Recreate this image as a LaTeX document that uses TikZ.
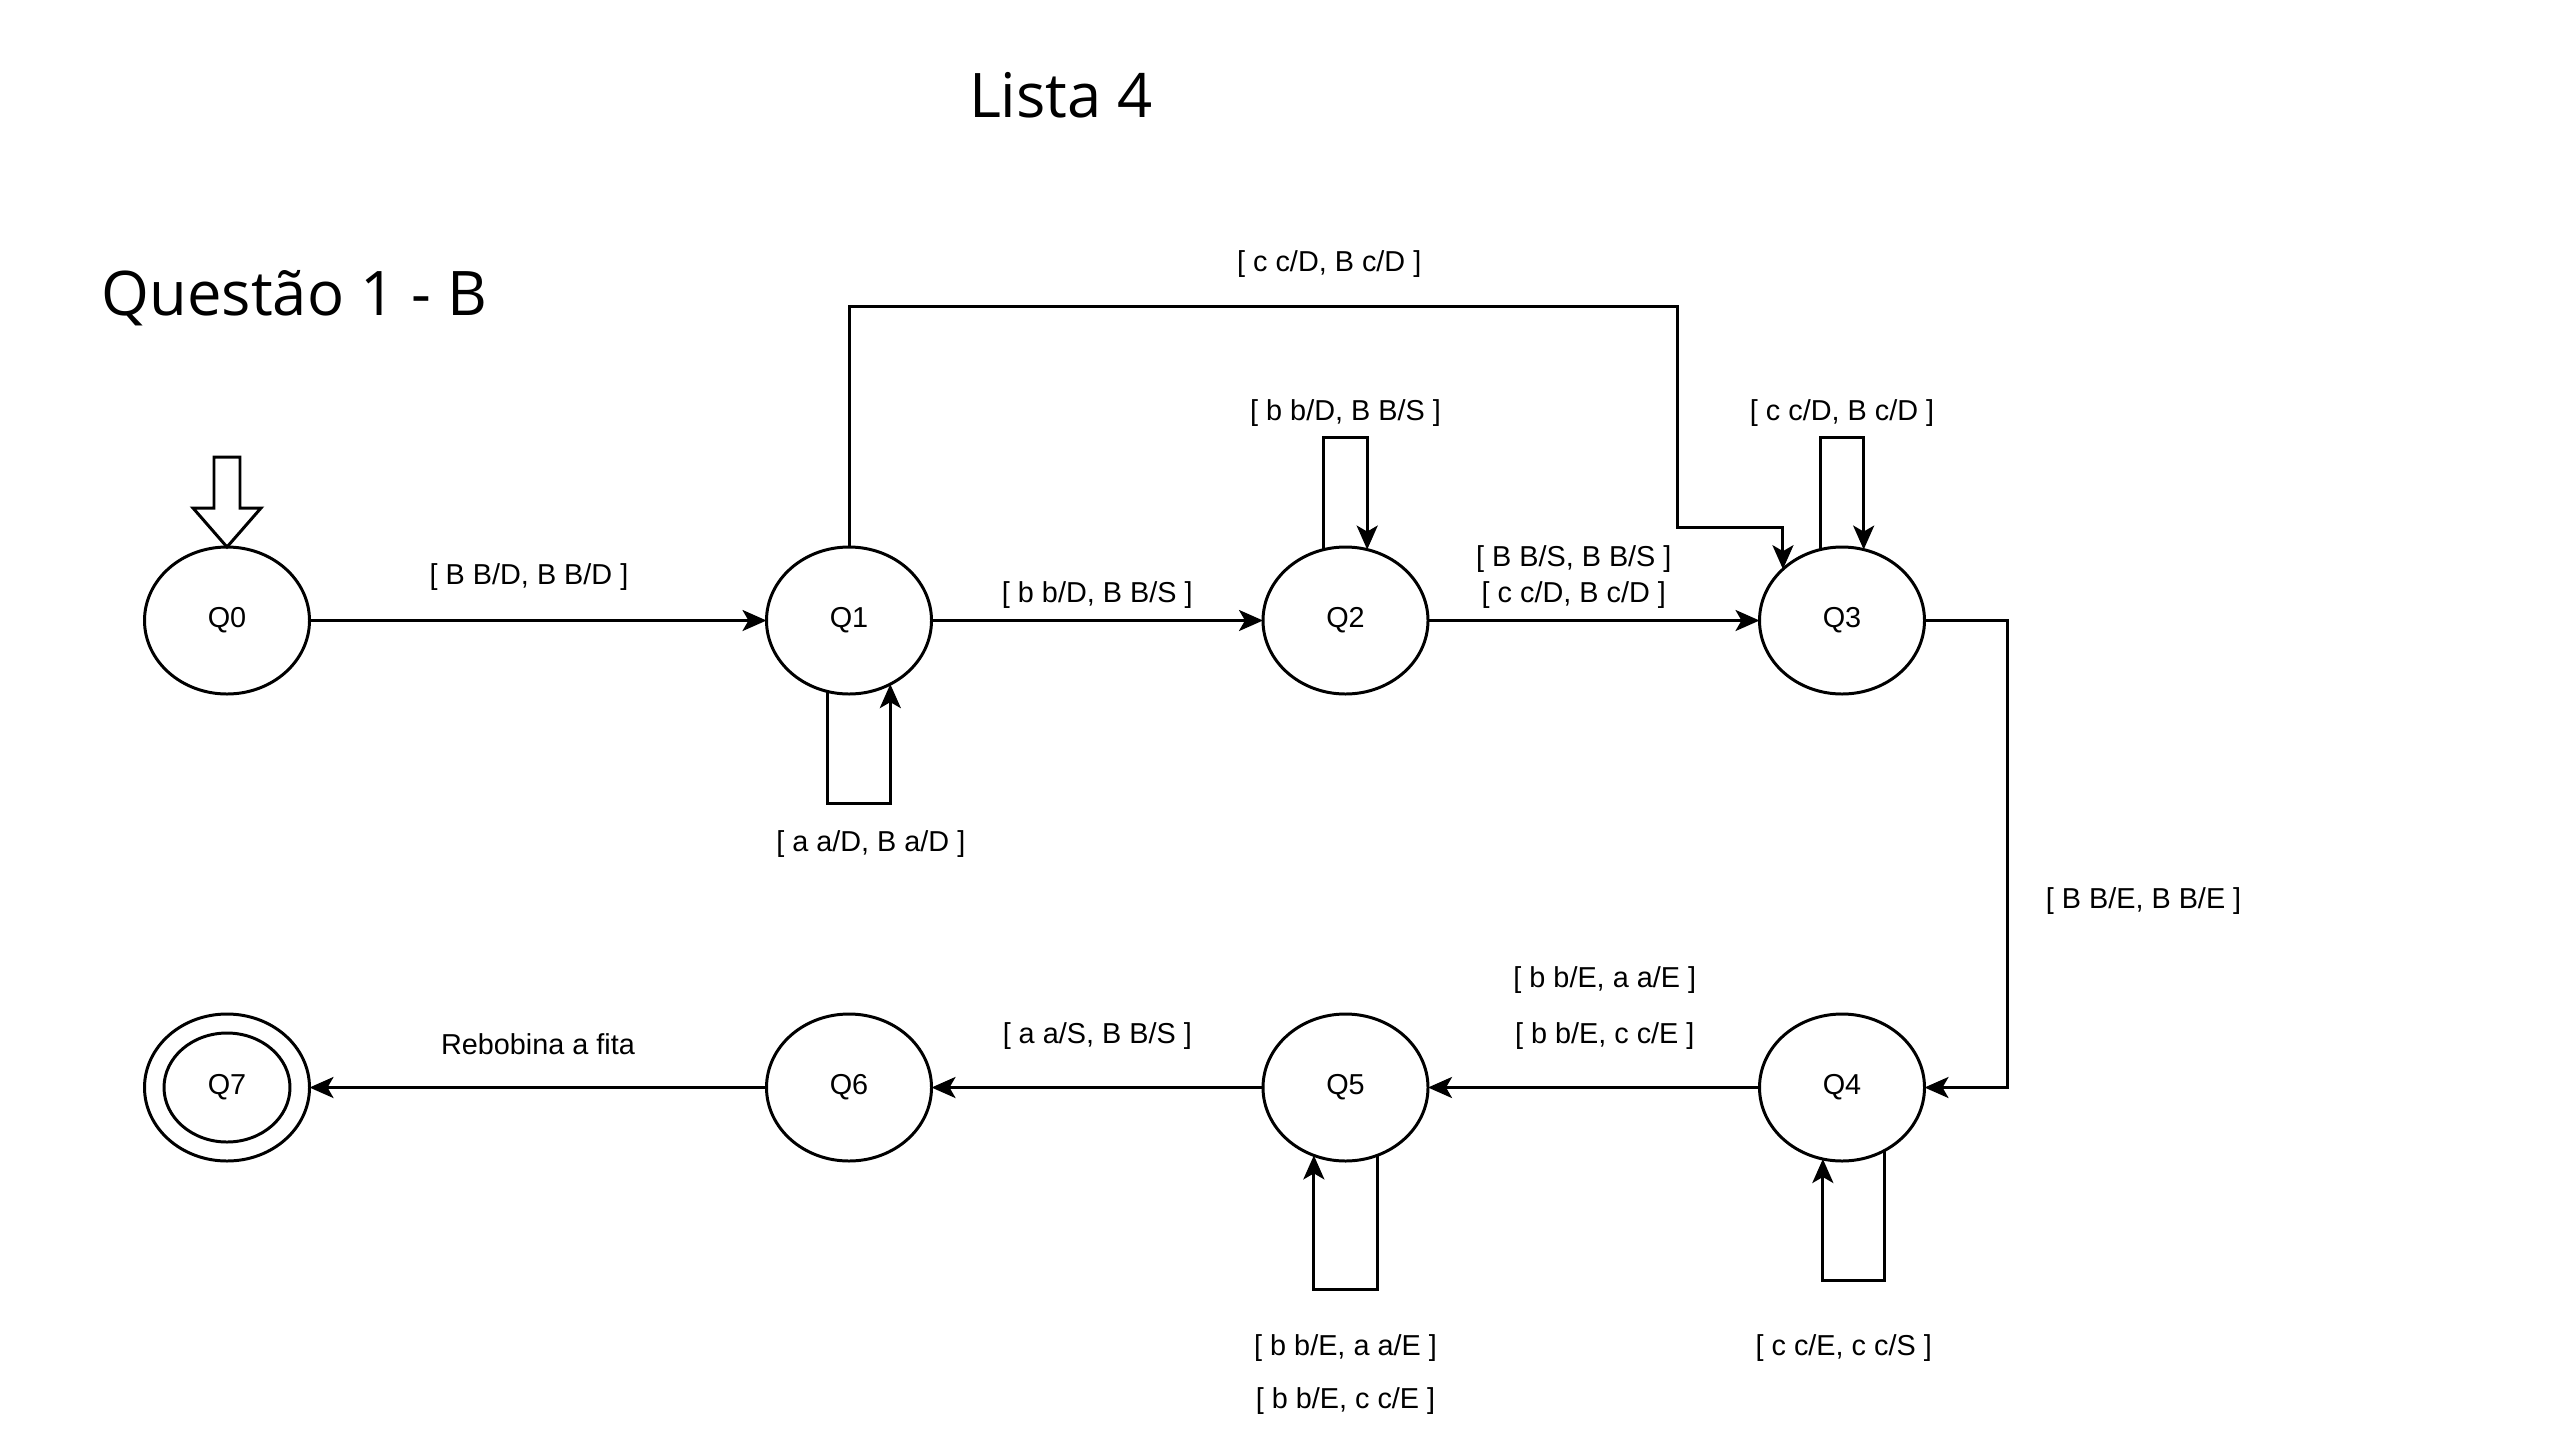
\documentclass[tikz,border=0pt]{standalone}
\usepackage{fontspec}
\setmainfont{Liberation Sans}
\newfontfamily\titlefont{Open Sans}
\usetikzlibrary{arrows.meta, positioning, calc, shapes.geometric}

\begin{document}
\begin{tikzpicture}[
        % Styles globaux
        base/.style={align=center, font=\fontsize{8.2}{10.2}\selectfont},
        % Style des etats
        state_node/.style={base, ellipse, draw, line width=0.85pt, minimum width=1.65cm, minimum height=1.47cm, inner sep=0pt, outer sep=0pt},
        % Style des etiquettes
        text_lbl/.style={base, inner sep=0pt},
        % Style des titres
        text_title/.style={font=\titlefont\fontsize{17.5}{21}\selectfont, inner sep=0pt},
        % Style des fleches
        arrow/.style={-{Stealth[length=2.4mm, width=2.1mm, inset=0.6mm]}, line width=0.85pt},
        % Espacement global
        node distance=3.2cm and 3.315cm
    ]
    \useasboundingbox (0,0) rectangle (25.6,-14.4);

    % --- TITRES ---
    \node[text_title] (title) at (10.61,-0.95) {Lista 4};
    \node[text_title, anchor=west] (subtitle) at (1.01,-2.98) {Questão 1 - B};

    % --- LIGNE 1 (HAUT) ---
    \node[state_node] (Q0) at (2.27,-6.205) {Q0};
    \node[state_node, right=4.57cm of Q0] (Q1) {Q1};
    \node[state_node, right=of Q1] (Q2) {Q2};
    \node[state_node, right=of Q2] (Q3) {Q3};

    % --- LIGNE 2 (BAS) ---
    \node[state_node, below=of Q3] (Q4) {Q4};
    \node[state_node, left=of Q4] (Q5) {Q5};
    \node[state_node, left=of Q5] (Q6) {Q6};
    \node[state_node, left=4.57cm of Q6] (Q7) {};
    \node[state_node, minimum width=1.26cm, minimum height=1.09cm] (Q7in) at (Q7) {Q7};

    % --- FLECHE INITIALE ---
    \draw[line width=0.85pt] (Q0.north) -- ++(-0.34,0.39) -- ++(0.21,0) -- ++(0,0.51) -- ++(0.26,0) -- ++(0,-0.51) -- ++(0.21,0) -- cycle;

    % --- TRANSITIONS (HAUT) ---
    \draw[arrow] (Q0) -- node[text_lbl, xshift=-0.09cm, yshift=0.43cm] {[ B B/D, B B/D ]} (Q1);
    \draw[arrow] (Q1) -- node[text_lbl, yshift=0.25cm] {[ b b/D, B B/S ]} (Q2);
    \draw[arrow] (Q2) -- node[text_lbl, xshift=-0.2cm, yshift=0.61cm] {[ B B/S, B B/S ]}
        node[text_lbl, xshift=-0.2cm, yshift=0.25cm] {[ c c/D, B c/D ]} (Q3);
    \draw[arrow] (Q1.north) -- ++(0,2.405) -| node[text_lbl, pos=0.29, yshift=0.42cm] {[ c c/D, B c/D ]}
        ($(Q3.center)+(-1.65,0.93)$) -| (Q3.139);

    % --- BOUCLES (HAUT) ---
    \draw[arrow] (Q1.253) -- ++(0,-1.12) -| node[text_lbl, pos=0.25, xshift=0.12cm, yshift=-0.41cm] {[ a a/D, B a/D ]} (Q1.303);
    \draw[arrow] (Q2.107) -- ++(0,1.12) -| node[text_lbl, pos=0.25, yshift=0.25cm] {[ b b/D, B B/S ]} (Q2.73);
    \draw[arrow] (Q3.107) -- ++(0,1.12) -| node[text_lbl, pos=0.25, yshift=0.25cm] {[ c c/D, B c/D ]} (Q3.73);

    % --- DESCENTE Q3 -> Q4 ---
    \draw[arrow] (Q3.east) -- ++(0.83,0) |- node[text_lbl, pos=0.3, xshift=1.36cm] {[ B B/E, B B/E ]} (Q4.east);

    % --- TRANSITIONS (BAS) ---
    \draw[arrow] (Q4) -- node[text_lbl, xshift=0.11cm, yshift=1.07cm] {[ b b/E, a a/E ]}
        node[text_lbl, xshift=0.11cm, yshift=0.51cm] {[ b b/E, c c/E ]} (Q5);
    \draw[arrow] (Q5) -- node[text_lbl, yshift=0.51cm] {[ a a/S, B B/S ]} (Q6);
    \draw[arrow] (Q6) -- node[text_lbl, yshift=0.43cm] {Rebobina a fita} (Q7);

    % --- BOUCLES (BAS) ---
    \draw[arrow] (Q4.304) -- ++(0,-1.3) -| node[text_lbl, pos=0.25, xshift=-0.1cm, yshift=-0.68cm] {[ c c/E, c c/S ]} (Q4.255);
    \draw[arrow] (Q5.295) -- ++(0,-1.34) -| node[text_lbl, pos=0.25, yshift=-0.585cm] {[ b b/E, a a/E ]}
        node[text_lbl, pos=0.25, yshift=-1.12cm] {[ b b/E, c c/E ]} (Q5.245);

    \end{tikzpicture}
\end{document}
